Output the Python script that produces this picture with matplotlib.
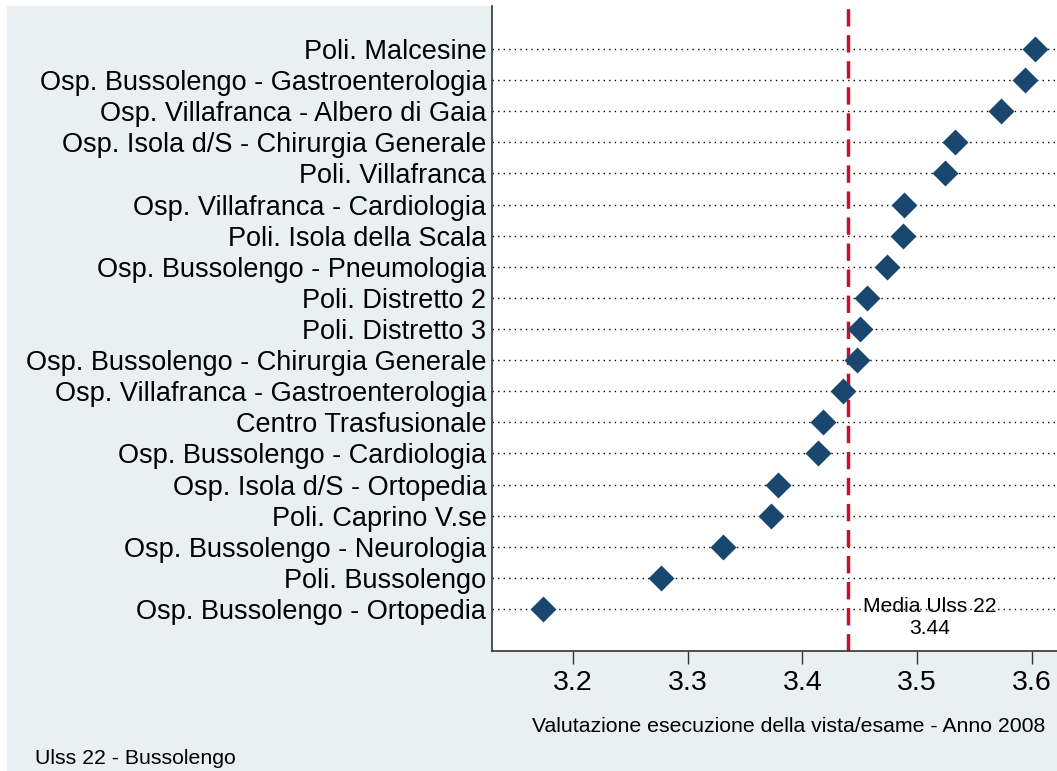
import numpy as np
import matplotlib.pyplot as plt
from matplotlib.patches import Rectangle

plt.rcParams['font.family'] = ['Liberation Sans', 'DejaVu Sans']

# ── Data (top to bottom) ─────────────────────────────────────────────────────
labels = [
    "Poli. Malcesine",
    "Osp. Bussolengo - Gastroenterologia",
    "Osp. Villafranca - Albero di Gaia",
    "Osp. Isola d/S - Chirurgia Generale",
    "Poli. Villafranca",
    "Osp. Villafranca - Cardiologia",
    "Poli. Isola della Scala",
    "Osp. Bussolengo - Pneumologia",
    "Poli. Distretto 2",
    "Poli. Distretto 3",
    "Osp. Bussolengo - Chirurgia Generale",
    "Osp. Villafranca - Gastroenterologia",
    "Centro Trasfusionale",
    "Osp. Bussolengo - Cardiologia",
    "Osp. Isola d/S - Ortopedia",
    "Poli. Caprino V.se",
    "Osp. Bussolengo - Neurologia",
    "Poli. Bussolengo",
    "Osp. Bussolengo - Ortopedia",
]
values = [3.603, 3.594, 3.573, 3.533, 3.524, 3.489, 3.488, 3.474, 3.456, 3.450,
          3.448, 3.435, 3.418, 3.414, 3.379, 3.373, 3.331, 3.277, 3.174]
media_ulss = 3.44
xticks = [3.2, 3.3, 3.4, 3.5, 3.6]

navy = "#1a476f"
bg = "#e9f0f2"

fig = plt.figure(figsize=(10.57, 7.71), dpi=100, facecolor="white")
fig.patches.append(Rectangle((7 / 1057, 0), 1, 1 - 6 / 771, transform=fig.transFigure,
                             facecolor=bg, edgecolor="none", zorder=-10))

ax = fig.add_axes([492 / 1057, 1 - 651 / 771, 1 - 492 / 1057, (651 - 6) / 771])
ax.set_facecolor("white")

n = len(labels)
ypos = np.arange(n, 0, -1)

for y in ypos:
    ax.axhline(y, color="black", linestyle=(0, (1, 3)), linewidth=1.0, zorder=1)

ax.axvline(media_ulss, color="#c8102e", linestyle=(0, (5, 2.5)), linewidth=2.5, zorder=2)
ax.scatter(values, ypos, marker="D", s=175, color=navy, zorder=3, linewidths=0)

ax.text(media_ulss + 0.0125, 1.37, f"Media Ulss 22\n{media_ulss:.2f}", ha="left", va="top",
        multialignment="center", fontsize=15.2, zorder=4, linespacing=1.15,
        transform=ax.transData)

ax.set_xlim(3.1294, 3.622)
ax.set_ylim(-0.35, n + 1.38)
ax.set_xticks(xticks)
ax.set_xticklabels([f"{t:.1f}" for t in xticks], fontsize=20.5)
ax.set_yticks(ypos)
ax.set_yticklabels(labels, fontsize=19.5)
ax.tick_params(axis="y", length=0, pad=4)
ax.tick_params(axis="x", length=9, width=1, color="#333333", pad=5)

for s in ["top", "right"]:
    ax.spines[s].set_visible(False)
for s in ["left", "bottom"]:
    ax.spines[s].set_color("#333333")
    ax.spines[s].set_linewidth(1.2)

fig.text(1045 / 1057, 1 - 726 / 771, "Valutazione esecuzione della vista/esame - Anno 2008",
         ha="right", va="center", fontsize=15.3)
fig.text(35 / 1057, 1 - 758 / 771, "Ulss 22 - Bussolengo", ha="left", va="center", fontsize=15.3)

fig.savefig("out.png", dpi=100, facecolor="white")
